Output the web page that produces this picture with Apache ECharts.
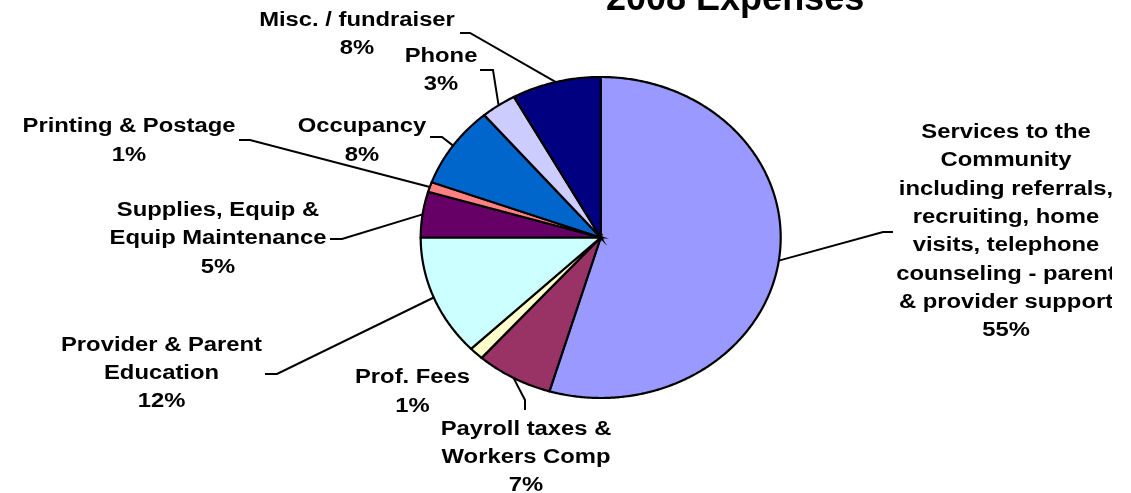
<!DOCTYPE html>
<html>
<head>
<meta charset="utf-8">
<script src="https://cdn.jsdelivr.net/npm/echarts/dist/echarts.min.js"></script>
<style>
html,body{margin:0;padding:0;background:#ffffff;}
#chart{width:1131px;height:493px;}
</style>
</head>
<body>
<div id="chart"></div>
<script>
// ---- data ----
const chartTitle = '2008 Expenses';
const categories = [
  'Services to the\nCommunity\nincluding referrals,\nrecruiting, home\nvisits, telephone\ncounseling - parent\n& provider support',
  'Payroll taxes &\nWorkers Comp',
  'Prof. Fees',
  'Provider & Parent\nEducation',
  'Supplies, Equip &\nEquip Maintenance',
  'Printing & Postage',
  'Occupancy',
  'Phone',
  'Misc. / fundraiser'
];
const values = [54.6, 6.9, 1.3, 12.2, 4.6, 1.0, 8.2, 3.2, 8.0];

// ---- styles / layout ----
const colors = ['#9999FF', '#993366', '#FFFFCC', '#CCFFFF', '#660066', '#FF8080', '#0066CC', '#CCCCFF', '#000080'];
const PIE = { cx: 600.7, cy: 237.5, rx: 180, ry: 160.5 };
// label text centre [x, y], leader knee [x, y], leader end [x, y]
const labelLayout = [
  { text: [1006, 231.7], knee: [883, 232], end: [893, 232], clipRight: 1112 },
  { text: [526, 457.5], knee: [525, 400], end: [525, 410] },
  { text: [412.5, 392], knee: null, end: null },
  { text: [161.5, 373.4], knee: [277, 374], end: [265, 374] },
  { text: [218, 238.9], knee: [342, 239], end: [330, 239] },
  { text: [129, 141], knee: [250, 140], end: [239, 140] },
  { text: [362, 141], knee: [442, 137], end: [430, 137] },
  { text: [441, 70.5], knee: [493, 70], end: [480, 70] },
  { text: [357, 34.5], knee: [470, 33], end: [460, 33] }
];
const FONT = 'bold 20px "Liberation Sans", Arial, sans-serif';
const TEXT_SCALE_X = 1.19;
const LINE_H = 28.3;

const total = values.reduce((a, b) => a + b, 0);
const cumBefore = [];
(function () { let acc = 0; values.forEach(v => { cumBefore.push(acc); acc += v; }); })();

function edgePoint(theta) {
  return [PIE.cx + PIE.rx * Math.sin(theta), PIE.cy - PIE.ry * Math.cos(theta)];
}

function renderItem(params, api) {
  const i = params.dataIndex;
  const v = api.value(0);
  const t0 = cumBefore[i] / total * 2 * Math.PI;
  const t1 = (cumBefore[i] + v) / total * 2 * Math.PI;
  const pts = [[PIE.cx, PIE.cy]];
  const n = Math.max(2, Math.ceil((t1 - t0) / (Math.PI / 360)));
  for (let k = 0; k <= n; k++) pts.push(edgePoint(t0 + (t1 - t0) * k / n));
  const children = [{
    type: 'polygon',
    shape: { points: pts },
    style: { fill: colors[i], stroke: '#000000', lineWidth: 2.2, lineJoin: 'miter' }
  }];
  const lay = labelLayout[i];
  if (lay.knee) {
    const mid = edgePoint((t0 + t1) / 2);
    children.push({
      type: 'polyline',
      shape: { points: [mid, lay.knee, lay.end] },
      style: { stroke: '#000000', lineWidth: 2, fill: null }
    });
  }
  const pct = Math.round(v / total * 100) + '%';
  const textEl = {
    type: 'text',
    x: lay.text[0],
    y: lay.text[1],
    scaleX: TEXT_SCALE_X,
    style: {
      text: categories[i] + '\n' + pct,
      x: 0, y: 0,
      font: FONT,
      fill: '#000000',
      align: 'center',
      verticalAlign: 'middle',
      lineHeight: LINE_H
    }
  };
  if (lay.clipRight) {
    const right = (lay.clipRight - lay.text[0]) / TEXT_SCALE_X;
    textEl.clipPath = { type: 'rect', shape: { x: -400, y: -300, width: 400 + right, height: 600 } };
  }
  children.push(textEl);
  return { type: 'group', children: children };
}

const chart = echarts.init(document.getElementById('chart'));
chart.setOption({
  backgroundColor: '#ffffff',
  animation: false,
  title: {
    text: chartTitle,
    left: 601,
    top: -23,
    textStyle: { fontSize: 36, fontWeight: 'bold', fontFamily: '"Liberation Sans", Arial, sans-serif', color: '#000000' }
  },
  series: [{
    type: 'custom',
    coordinateSystem: 'none',
    silent: true,
    data: values,
    renderItem: renderItem
  }]
});
</script>
</body>
</html>
